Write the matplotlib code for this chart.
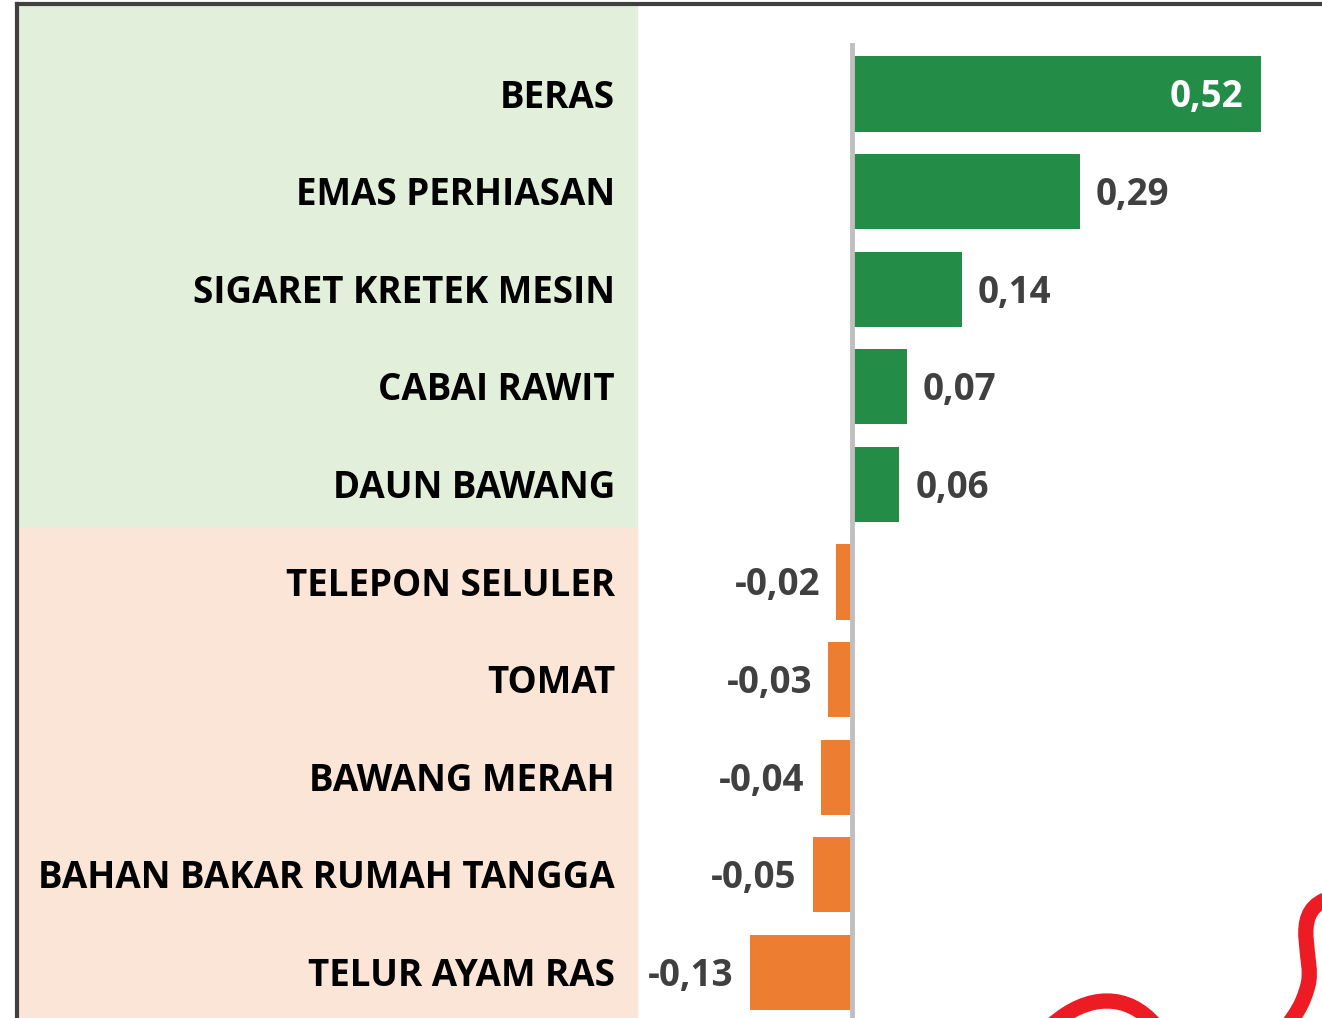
import matplotlib.pyplot as plt
from matplotlib.patches import Rectangle
from matplotlib.path import Path
from matplotlib.patches import PathPatch

kategori = ["BERAS", "EMAS PERHIASAN", "SIGARET KRETEK MESIN", "CABAI RAWIT",
            "DAUN BAWANG", "TELEPON SELULER", "TOMAT", "BAWANG MERAH",
            "BAHAN BAKAR RUMAH TANGGA", "TELUR AYAM RAS"]
andil = [0.52, 0.29, 0.14, 0.07, 0.06, -0.02, -0.03, -0.04, -0.05, -0.13]
label_andil = ["0,52", "0,29", "0,14", "0,07", "0,06",
               "-0,02", "-0,03", "-0,04", "-0,05", "-0,13"]

W, H = 1322, 1018
fig = plt.figure(figsize=(W / 100, H / 100), dpi=100)
fig.patch.set_facecolor("white")

# latar belakang panel label
fig.patches.append(Rectangle((19 / W, 1 - 528 / H), (637 - 19) / W, (528 - 6) / H,
                             transform=fig.transFigure, color="#E2EFDA", zorder=-2))
fig.patches.append(Rectangle((19 / W, 0), (637 - 19) / W, 1 - 528 / H,
                             transform=fig.transFigure, color="#FBE5D6", zorder=-2))
# garis bingkai
fig.add_artist(plt.Line2D([17 / W, 17 / W], [0, 1 - 4 / H], transform=fig.transFigure,
                          color="#404040", lw=3))
fig.add_artist(plt.Line2D([17 / W, 1], [1 - 4 / H, 1 - 4 / H], transform=fig.transFigure,
                          color="#404040", lw=3))

ax = fig.add_axes([0, 0, 1, 1])
ax.patch.set_alpha(0)
skala = 786.0
nol = 852.0
ax.set_xlim(-nol / skala, (W - nol) / skala)
jarak = 97.6
ax.set_ylim((H - 94) / jarak, -94 / jarak)
ax.axis("off")

y = list(range(len(kategori)))
warna = ["#238C47" if v > 0 else "#ED7D31" for v in andil]
ax.barh(y, andil, height=0.77, color=warna, zorder=2)
ax.plot([0, 0], [-49 / jarak, (H - 94) / jarak], color="#BFBFBF", lw=3.5, zorder=3)

font = "Open Sans"
uk = 26.5
geser = 3.5 / jarak  # sedikit turun agar sejajar dengan batang
for i, (k, v, s) in enumerate(zip(kategori, andil, label_andil)):
    fig.text(615 / W, 1 - (97.5 + i * jarak) / H, k,
             ha="right", va="center", fontsize=uk, fontweight="bold",
             family=font, color="black")
    if i == 0:
        ax.text(v - 17 / skala, i + geser, s, ha="right", va="center", fontsize=uk,
                fontweight="bold", family=font, color="white", zorder=4)
    elif v > 0:
        ax.text(v + 16 / skala, i + geser, s, ha="left", va="center", fontsize=uk,
                fontweight="bold", family=font, color="#404040", zorder=4)
    else:
        ax.text(v - 16 / skala, i + geser, s, ha="right", va="center", fontsize=uk,
                fontweight="bold", family=font, color="#404040", zorder=4)

# potongan logo merah di pojok kanan bawah
def kurva(titik):
    kode = [Path.MOVETO] + [Path.CURVE4] * (len(titik) - 1)
    pts = [(x / W, 1 - yy / H) for x, yy in titik]
    return PathPatch(Path(pts, kode), transform=fig.transFigure, fill=False,
                     edgecolor="#ED1C24", lw=11, capstyle="round")

fig.patches.append(kurva([(1052, 1025), (1088, 993), (1128, 993), (1155, 1025)]))
fig.patches.append(kurva([(1325, 900), (1290, 915), (1315, 960), (1308, 985),
                          (1303, 1005), (1295, 1015), (1288, 1025)]))

plt.savefig("out.png", dpi=100)
plt.close()
